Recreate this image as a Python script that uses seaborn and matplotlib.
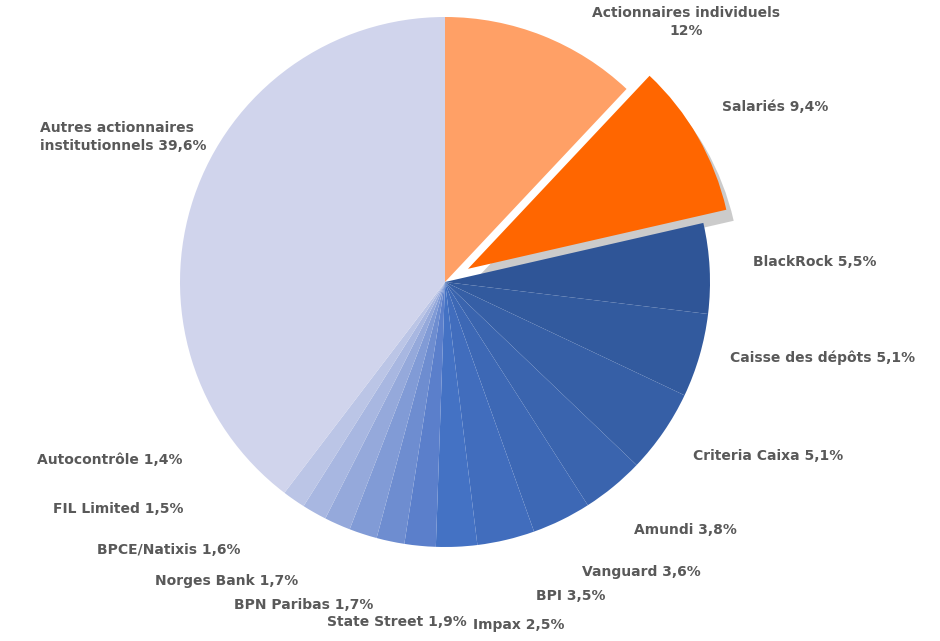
import matplotlib.pyplot as plt
import matplotlib.patches as mpatches
import seaborn as sns

#####----- DATA
labels = ["Actionnaires individuels", "Salariés", "BlackRock", "Caisse des dépôts",
          "Criteria Caixa", "Amundi", "Vanguard", "BPI", "Impax", "State Street",
          "BPN Paribas", "Norges Bank", "BPCE/Natixis", "FIL Limited", "Autocontrôle",
          "Autres actionnaires institutionnels"]
values = [12, 9.4, 5.5, 5.1, 5.1, 3.8, 3.6, 3.5, 2.5, 1.9, 1.7, 1.7, 1.6, 1.5, 1.4, 39.6]
value_text = ["12%", "9,4%", "5,5%", "5,1%", "5,1%", "3,8%", "3,6%", "3,5%", "2,5%",
              "1,9%", "1,7%", "1,7%", "1,6%", "1,5%", "1,4%", "39,6%"]

#####----- STYLE
sns.set_style("white")
blues = sns.blend_palette(["#2F5597", "#4472C4"], 7) + \
        sns.blend_palette(["#5B7FCB", "#BBC5E6"], 6)
colors = ["#FFA066", "#FF6600"] + blues + ["#D0D4EC"]
explode = [0] * len(values)
explode[1] = 0.1

# label centres in pixels (x, y from top)
label_pos = [(686, 22), (775, 107), (815, 262), (823, 358), (768, 456), (685, 530),
             (641, 572), (571, 596), (519, 625), (397, 622), (304, 605), (227, 581),
             (169, 550), (118, 509), (110, 460), (40, 137)]

W, H = 940, 641
fig = plt.figure(figsize=(W / 100, H / 100), dpi=100)
R = 265
ax = fig.add_axes([(445 - R) / W, (H - 282 - R) / H, 2 * R / W, 2 * R / H])

wedges, _ = ax.pie(values, colors=colors, startangle=90, counterclock=False,
                   explode=explode, wedgeprops=dict(linewidth=0))
shadow = mpatches.Shadow(wedges[1], 0.02, -0.03, facecolor="#BFBFBF", alpha=0.8)
shadow.set_zorder(wedges[1].get_zorder() - 0.5)
ax.add_patch(shadow)
ax.set_xlim(-1, 1)
ax.set_ylim(-1, 1)
ax.set_aspect("equal")
ax.axis("off")

for i, (lab, vt) in enumerate(zip(labels, value_text)):
    x, y = label_pos[i]
    if i == 0:
        txt, ha = f"{lab}\n{vt}", "center"
    elif i == len(labels) - 1:
        txt, ha = "Autres actionnaires\ninstitutionnels " + vt, "left"
    else:
        txt, ha = f"{lab} {vt}", "center"
    fig.text(x / W, 1 - y / H, txt, ha=ha, va="center", fontsize=10,
             fontweight="bold", color="#595959", linespacing=1.3)

fig.savefig("out.png", dpi=100)
